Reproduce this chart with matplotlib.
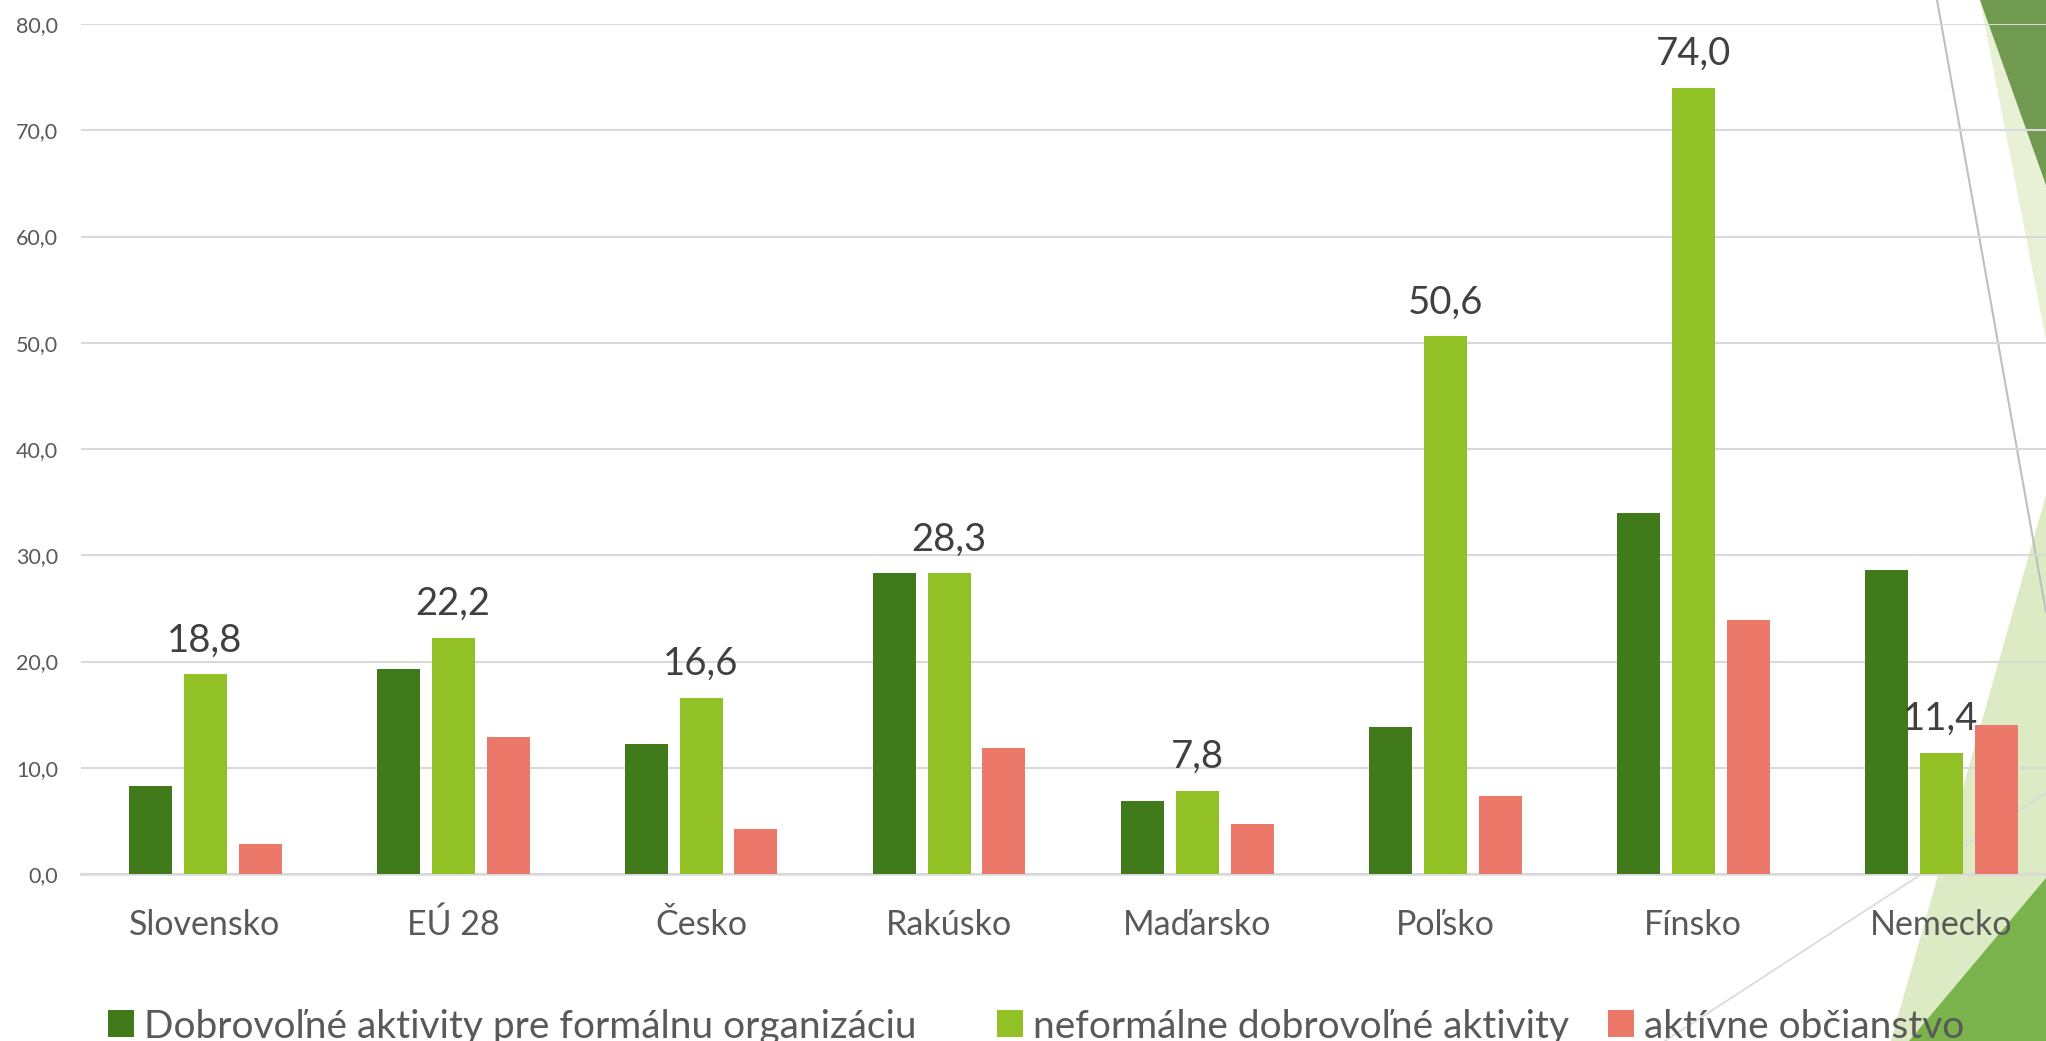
import matplotlib
matplotlib.use("Agg")
import matplotlib.pyplot as plt
from matplotlib.patches import Polygon, Rectangle
from matplotlib.lines import Line2D
import numpy as np

plt.rcParams['font.family'] = ['Lato', 'DejaVu Sans']

categories = ["Slovensko", "EÚ 28", "Česko", "Rakúsko", "Maďarsko", "Poľsko", "Fínsko", "Nemecko"]
series_names = ["Dobrovoľné aktivity pre formálnu organizáciu",
                "neformálne dobrovoľné aktivity",
                "aktívne občianstvo"]
formal = [8.3, 19.3, 12.2, 28.3, 6.9, 13.8, 34.0, 28.6]
informal = [18.8, 22.2, 16.6, 28.3, 7.8, 50.6, 74.0, 11.4]
active = [2.8, 12.9, 4.2, 11.9, 4.7, 7.3, 23.9, 14.0]
yticks = [0, 10, 20, 30, 40, 50, 60, 70, 80]

colors = ["#407A1B", "#92C126", "#EC7869"]

W, H = 2046, 1041
fig = plt.figure(figsize=(W / 100, H / 100), dpi=100)
fig.patch.set_facecolor("white")

def fx(x):
    return x / W

def fy(y):
    return 1 - y / H

# background decorations (figure coordinates in pixels)
def poly(pts, color):
    p = Polygon([(fx(x), fy(y)) for x, y in pts], closed=True, transform=fig.transFigure,
                facecolor=color, edgecolor="none", zorder=-2)
    fig.add_artist(p)

poly([(1980, 0), (2046, 0), (2046, 340)], "#E8F0D6")
poly([(1980, 0), (2046, 0), (2046, 185)], "#6F9A50")
poly([(2046, 495), (1891, 1041), (2046, 1041)], "#DDEBC4")
poly([(2046, 878), (1909, 1041), (2046, 1041)], "#7AB24B")
fig.add_artist(Line2D([fx(1937), fx(2046)], [fy(0), fy(612)], transform=fig.transFigure,
                      color="#BFBFBF", lw=1.5, zorder=-1))
fig.add_artist(Line2D([fx(1665), fx(2046)], [fy(1041), fy(793)], transform=fig.transFigure,
                      color="#D9D9D9", lw=1.2, zorder=-1))

# axes: left 81px, bottom at 874px, top at 24px, category width 248px
left = 81
cw = 248
ax = fig.add_axes([fx(left), fy(874), (cw * len(categories)) / W, (874 - 24) / H])
ax.patch.set_alpha(0)

x = np.arange(len(categories))
bw = 43 / cw
off = 55 / cw
data = [formal, informal, active]
for i, (vals, c) in enumerate(zip(data, colors)):
    ax.bar(x + (i - 1) * off, vals, width=bw, color=c, zorder=3, label=series_names[i])

for xi, v in zip(x, informal):
    ax.annotate(f"{v:.1f}".replace(".", ","), (xi, v), xytext=(0, 16.5), textcoords="offset points",
                ha="center", va="baseline", fontsize=27.5, color="#404040", zorder=4)

ax.set_xlim(-0.5, len(categories) - 0.5)
ax.set_ylim(0, 80)
ax.set_yticks(yticks)
ax.set_yticklabels([f"{v:.1f}".replace(".", ",") for v in yticks])
ax.set_xticks(x)
ax.set_xticklabels(categories)
ax.tick_params(axis="y", length=0, pad=16.5, labelsize=15.5, labelcolor="#595959")
ax.tick_params(axis="x", length=0, pad=25, labelsize=24.5, labelcolor="#595959")
ax.grid(axis="y", color="#D9D9D9", lw=1.5, zorder=0)
ax.set_axisbelow(True)
for s in ["left", "right", "top"]:
    ax.spines[s].set_visible(False)
ax.spines["bottom"].set_color("#D9D9D9")
ax.spines["bottom"].set_linewidth(1.8)

# legend (manual)
leg_marker_x = [108, 997, 1608]
for i, name in enumerate(series_names):
    mx = leg_marker_x[i]
    fig.add_artist(Rectangle((fx(mx), fy(1037)), 26 / W, 27 / H, transform=fig.transFigure,
                             facecolor=colors[i], edgecolor="none"))
    fig.text(fx(mx + 36), fy(1038), name, ha="left", va="baseline", fontsize=28, color="#595959")

fig.savefig("out.png", dpi=100)
